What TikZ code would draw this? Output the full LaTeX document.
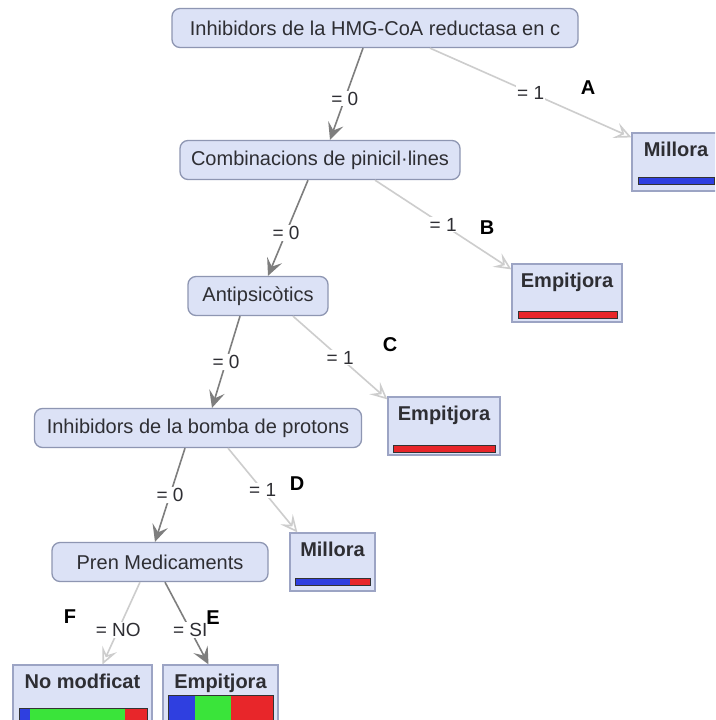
\documentclass[tikz,border=0pt]{standalone}
\usepackage{fontspec}
\setmainfont{Liberation Sans}
\usetikzlibrary{arrows.meta}

\definecolor{nodefill}{HTML}{DCE2F6}
\definecolor{splitdraw}{HTML}{8E96B2}
\definecolor{leafdraw}{HTML}{9CA4C4}
\definecolor{textgray}{HTML}{2E2E33}
\definecolor{zerogray}{HTML}{7E7E7E}
\definecolor{onegray}{HTML}{CDCDCD}
\definecolor{barblue}{HTML}{2F3FE0}
\definecolor{bargreen}{HTML}{3AE43A}
\definecolor{barred}{HTML}{E8262A}

% barra de classes: x0, x1, y0, y1, fi del blau, fi del verd
\newcommand{\probbar}[6]{%
    \fill[barblue] (#1,#3) rectangle (#5,#4);
    \fill[bargreen] (#5,#3) rectangle (#6,#4);
    \fill[barred] (#6,#3) rectangle (#2,#4);
    \draw[black!80, line width=1pt] (#1,#3) rectangle (#2,#4);
}

\begin{document}
\begin{tikzpicture}[x=1pt, y=-1pt, font=\fontsize{20}{24}\selectfont]
    % --- Estils ---
    \tikzset{
        split/.style={draw=splitdraw, fill=nodefill, rounded corners=8pt, line width=1.3pt,
            minimum height=39, inner xsep=8, text=textgray},
        leaf/.style={draw=leafdraw, fill=nodefill, line width=1.2pt, text=textgray,
            font=\fontsize{20}{24}\selectfont\bfseries, inner ysep=4, text height=19, text depth=31},
        zero/.style={draw=zerogray, line width=1.6pt, -{Stealth[length=17pt, width=16pt, inset=7pt]}},
        one/.style={draw=onegray, line width=1.6pt, -{Stealth[open, length=17pt, width=16pt, inset=7pt]}},
        elabel/.style={fill=white, inner sep=1pt, font=\fontsize{19}{22}\selectfont, text=textgray},
        tag/.style={font=\fontsize{20}{24}\selectfont\bfseries}
    }
    \useasboundingbox (0,0) rectangle (715,720);
    \clip (0,0) rectangle (715,720);
    \fill[white] (0,0) rectangle (715,720);

    % --- Nodes de decisio ---
    \node[split, minimum width=406] (hmg) at (375,28) {Inhibidors de la HMG-CoA reductasa en c};
    \node[split, minimum width=280] (peni) at (320,160) {Combinacions de pinicil·lines};
    \node[split, minimum width=140] (anti) at (258,296) {Antipsicòtics};
    \node[split, minimum width=327] (bomba) at (198,428) {Inhibidors de la bomba de protons};
    \node[split, minimum width=216] (pren) at (160,562) {Pren Medicaments};

    % --- Fulles ---
    \node[leaf, minimum width=88] (lA) at (676,162) {Millora};
    \node[leaf, minimum width=110] (lB) at (567,293) {Empitjora};
    \node[leaf, minimum width=112] (lC) at (444,426) {Empitjora};
    \node[leaf, minimum width=85] (lD) at (332.5,562) {Millora};
    \node[leaf, minimum width=139] (lF) at (82.5,694) {No modficat};
    \node[leaf, minimum width=115] (lE) at (220.5,694) {Empitjora};

    % barres de distribucio
    \probbar{638}{714}{177}{184}{714}{714}
    \probbar{518}{617}{311}{318}{518}{518}
    \probbar{393}{495}{445}{452}{393}{393}
    \probbar{295}{370}{578}{585}{350}{350}
    \probbar{19}{147}{708}{724}{30}{125}
    \probbar{168}{273}{695}{724}{195}{231}

    % --- Branques ---
    \draw[zero] ([xshift=-12]hmg.south) -- node[elabel, pos=.55] {= 0} ([xshift=10]peni.north);
    \draw[one] ([xshift=55]hmg.south) -- node[elabel] {= 1} ([yshift=-5]lA.north west);
    \draw[zero] ([xshift=-12]peni.south) -- node[elabel, pos=.55] {= 0} ([xshift=10]anti.north);
    \draw[one] ([xshift=55]peni.south) -- node[elabel] {= 1} ([yshift=-6]lB.north west);
    \draw[zero] ([xshift=-18]anti.south) -- node[elabel, pos=.5] {= 0} ([xshift=14]bomba.north);
    \draw[one] ([xshift=35]anti.south) -- node[elabel] {= 1} ([yshift=-3]lC.north west);
    \draw[zero] ([xshift=-13]bomba.south) -- node[elabel, pos=.5] {= 0} ([xshift=-5]pren.north);
    \draw[one] ([xshift=30]bomba.south) -- node[elabel] {= 1} ([xshift=8]lD.north west);
    \draw[one] ([xshift=-20]pren.south) -- node[elabel, pos=.58] {= NO} ([xshift=20]lF.north);
    \draw[zero] ([xshift=5]pren.south) -- node[elabel, pos=.58] {= SI} ([xshift=-12]lE.north);

    % --- Lletres ---
    \foreach \t/\x/\y in {A/588/88, B/487/228, C/390/345, D/297/484, E/213/618, F/70/617} {
        \node[tag] (tag\t) at (\x,\y) {\t};
    }
\end{tikzpicture}
\end{document}
